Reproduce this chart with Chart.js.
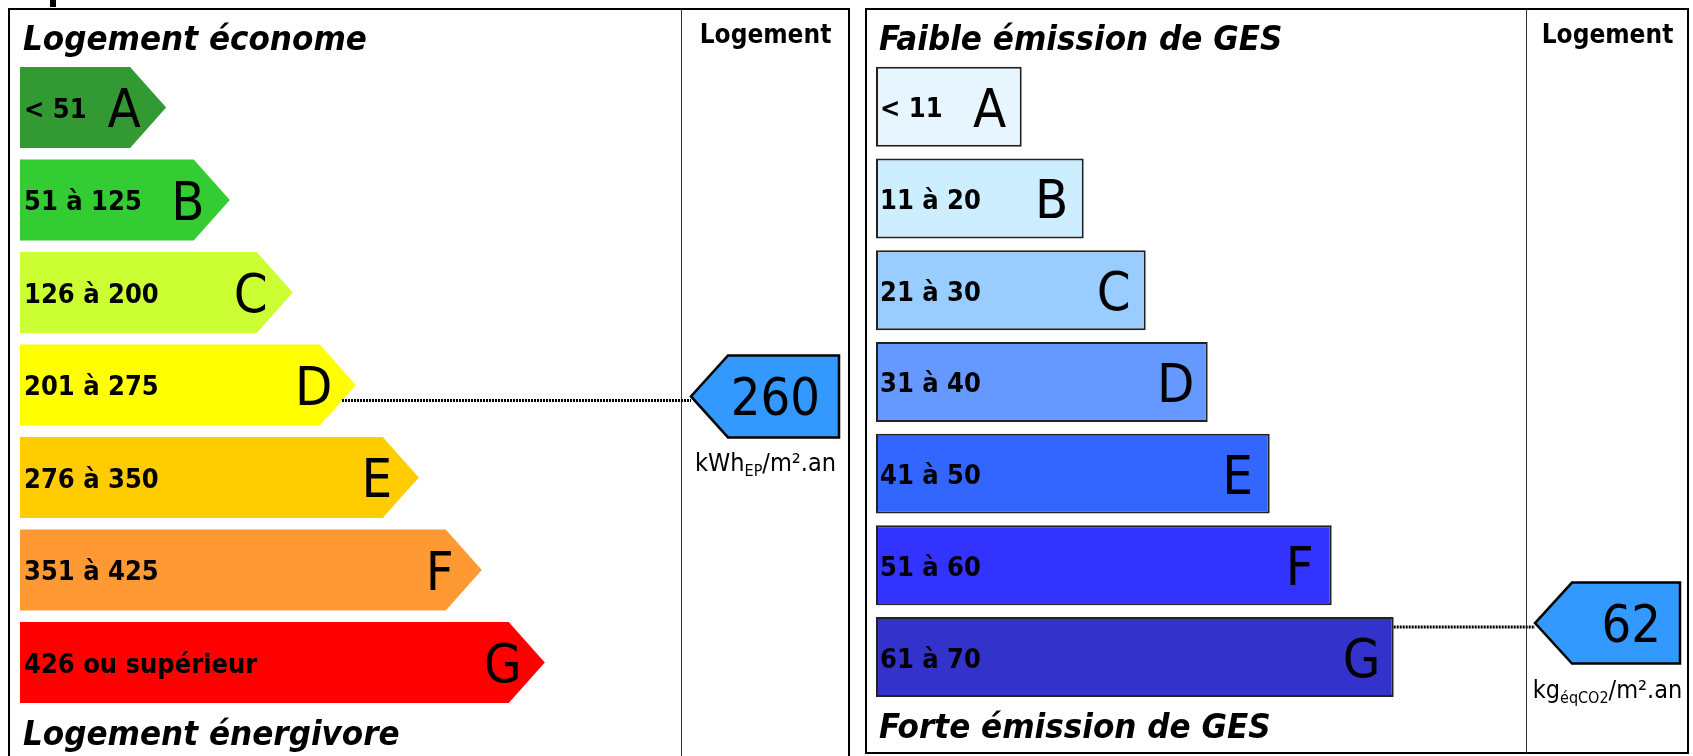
<!DOCTYPE html>
<html lang="fr">
<head>
  <meta charset="UTF-8">
  <title>Diagnostic de performance énergétique</title>
  <script src="https://cdn.jsdelivr.net/npm/chart.js"></script>
  <style>
    html, body {
      margin: 0;
      padding: 0;
      background: #fff;
    }
    body {
      position: relative;
      width: 1693px;
      height: 756px;
      overflow: hidden;
      font-family: 'DejaVu Sans Condensed', 'DejaVu Sans', sans-serif;
      color: #000;
    }
    .panel {
      position: absolute;
      box-sizing: border-box;
      border: 2px solid #000;
    }
    #panel-energy { left: 8px; top: 8px; width: 842px; height: 780px; }
    #panel-ges { left: 865px; top: 8px; width: 824px; height: 746px; }
    .divider {
      position: absolute;
      width: 0;
      border-left: 1.5px solid #333;
    }
    canvas {
      position: absolute;
      top: 0;
    }
    .title {
      position: absolute;
      font-weight: bold;
      font-style: italic;
      font-size: 34.6px;
      line-height: 34px;
      white-space: nowrap;
    }
    .colhead {
      position: absolute;
      font-weight: bold;
      font-size: 26px;
      line-height: 26px;
      text-align: center;
      white-space: nowrap;
    }
    .unit {
      position: absolute;
      font-size: 25px;
      line-height: 22px;
      text-align: center;
      white-space: nowrap;
    }
    .unit sub {
      font-size: 16px;
      line-height: 0;
      vertical-align: -5px;
    }
    #cut-mark {
      position: absolute;
      left: 50px;
      top: 0;
      width: 6px;
      height: 7px;
      background: #000;
    }
  </style>
</head>
<body>
  <div id="cut-mark"></div>

  <div class="panel" id="panel-energy"></div>
  <div class="divider" style="left:681px; top:9px; height:760px;"></div>
  <div class="panel" id="panel-ges"></div>
  <div class="divider" style="left:1526px; top:9px; height:744px;"></div>

  <canvas id="energy" width="858" height="756" style="left:0;"></canvas>
  <canvas id="ges" width="835" height="756" style="left:858px;"></canvas>

  <div class="title" style="left:23px; top:21px;">Logement économe</div>
  <div class="title" style="left:23px; top:716px;">Logement énergivore</div>
  <div class="title" style="left:879px; top:21px;">Faible émission de GES</div>
  <div class="title" style="left:879px; top:709px;">Forte émission de GES</div>

  <div class="colhead" style="left:682px; width:167px; top:21px;">Logement</div>
  <div class="colhead" style="left:1527px; width:161px; top:21px;">Logement</div>

  <div class="unit" style="left:682px; width:167px; top:452px;">kWh<sub>EP</sub>/m².an</div>
  <div class="unit" style="left:1527px; width:161px; top:679px;">kg<sub>éqCO2</sub>/m².an</div>

  <script>
    // classes, shared by both labels
    const classes = ['A', 'B', 'C', 'D', 'E', 'F', 'G'];

    // energy consumption (kWhEP/m².an)
    const energyRanges = ['< 51', '51 à 125', '126 à 200', '201 à 275', '276 à 350', '351 à 425', '426 ou supérieur'];
    const energyBarLength = [2.32, 3.33, 4.33, 5.33, 6.33, 7.33, 8.33];
    const energyColors = ['#339933', '#33cc33', '#ccff33', '#ffff00', '#ffcc00', '#ff9933', '#ff0000'];
    const energyLow = [0, 51, 126, 201, 276, 351, 426];
    const energyHigh = [50, 125, 200, 275, 350, 425, 500];
    const energyValue = 260;

    // greenhouse gas emissions (kgéqCO2/m².an)
    const gesRanges = ['< 11', '11 à 20', '21 à 30', '31 à 40', '41 à 50', '51 à 60', '61 à 70'];
    const gesBarLength = [2.35, 3.35, 4.35, 5.35, 6.35, 7.35, 8.35];
    const gesColors = ['#e6f5ff', '#cceeff', '#99ccff', '#6699ff', '#3366ff', '#3333ff', '#3333cc'];
    const gesLow = [0, 11, 21, 31, 41, 51, 61];
    const gesHigh = [10, 20, 30, 40, 50, 60, 70];
    const gesValue = 62;

    const FONT = "'DejaVu Sans Condensed', 'DejaVu Sans', sans-serif";

    // draws the bar shapes (arrow ends for energy), the texts and the value pointer
    function dpePlugin(cfg) {
      return {
        id: 'dpe',
        beforeDatasetsDraw(chart) {
          if (!cfg.arrowBars) return;
          const ctx = chart.ctx;
          chart.getDatasetMeta(0).data.forEach((el) => {
            const h = el.height;
            const top = el.y - h / 2;
            const head = h * 0.445;
            ctx.save();
            ctx.fillStyle = el.options.backgroundColor;
            ctx.beginPath();
            ctx.moveTo(el.base, top);
            ctx.lineTo(el.x - head, top);
            ctx.lineTo(el.x, el.y);
            ctx.lineTo(el.x - head, top + h);
            ctx.lineTo(el.base, top + h);
            ctx.closePath();
            ctx.fill();
            ctx.restore();
          });
          return false;
        },
        afterDraw(chart) {
          const ctx = chart.ctx;
          const meta = chart.getDatasetMeta(0);
          ctx.save();
          ctx.fillStyle = '#000';
          ctx.textBaseline = 'alphabetic';
          meta.data.forEach((el, i) => {
            ctx.font = 'bold 27px ' + FONT;
            ctx.textAlign = 'left';
            ctx.fillText(cfg.ranges[i], el.base + 4, el.y + 10.5);
            ctx.font = '54px ' + FONT;
            ctx.textAlign = 'center';
            ctx.fillText(chart.data.labels[i], el.x - cfg.letterGap, el.y + 20);
          });

          // which class the value falls in, and where inside it
          const v = cfg.value;
          let idx = 0;
          cfg.lows.forEach((lo, i) => { if (v >= lo) idx = i; });
          const frac = (v - cfg.lows[idx]) / (cfg.highs[idx] - cfg.lows[idx]);
          const ty = chart.scales.y.getPixelForValue(idx - 0.45 + frac * 0.72);

          const bar = meta.data[idx];
          const half = bar.height / 2;
          const ly = ty + 4;
          let edgeX = bar.x;
          if (cfg.arrowBars) {
            edgeX = bar.x - bar.height * 0.445 * Math.abs(ly - bar.y) / half;
          }

          // dotted leader line
          ctx.beginPath();
          ctx.setLineDash([2, 1]);
          ctx.lineWidth = 3;
          ctx.strokeStyle = '#000';
          ctx.moveTo(edgeX, ly);
          ctx.lineTo(cfg.tipX, ly);
          ctx.stroke();
          ctx.setLineDash([]);

          // pointer box
          const ph = bar.height + 1;
          ctx.beginPath();
          ctx.moveTo(cfg.tipX, ty);
          ctx.lineTo(cfg.tipX + 37, ty - ph / 2);
          ctx.lineTo(cfg.rightX, ty - ph / 2);
          ctx.lineTo(cfg.rightX, ty + ph / 2);
          ctx.lineTo(cfg.tipX + 37, ty + ph / 2);
          ctx.closePath();
          ctx.fillStyle = '#3399ff';
          ctx.fill();
          ctx.lineWidth = 2.5;
          ctx.lineJoin = 'miter';
          ctx.stroke();

          ctx.fillStyle = '#000';
          ctx.font = '52px ' + FONT;
          ctx.textAlign = 'right';
          ctx.fillText(String(v), cfg.rightX - 19, ty + 19);
          ctx.restore();
        }
      };
    }

    function makeChart(id, lengths, colors, padding, barPct, border, plugin) {
      return new Chart(document.getElementById(id), {
        type: 'bar',
        data: {
          labels: classes,
          datasets: [{
            data: lengths,
            backgroundColor: colors,
            borderColor: '#222',
            borderWidth: border,
            borderSkipped: false,
            barPercentage: barPct,
            categoryPercentage: 1
          }]
        },
        options: {
          indexAxis: 'y',
          responsive: false,
          animation: false,
          layout: { padding: padding },
          scales: {
            x: { display: false, min: 0, max: 10 },
            y: { display: false }
          },
          plugins: {
            legend: { display: false },
            tooltip: { enabled: false }
          }
        },
        plugins: [plugin]
      });
    }

    makeChart('energy', energyBarLength, energyColors,
      { left: 20, right: 208, top: 61.2, bottom: 47.3 }, 0.876, 0,
      dpePlugin({
        arrowBars: true, ranges: energyRanges, letterGap: 42,
        value: energyValue, lows: energyLow, highs: energyHigh,
        tipX: 691, rightX: 839
      }));

    makeChart('ges', gesBarLength, gesColors,
      { left: 18, right: 197, top: 60.9, bottom: 53.1 }, 0.872, 2,
      dpePlugin({
        arrowBars: false, ranges: gesRanges, letterGap: 32,
        value: gesValue, lows: gesLow, highs: gesHigh,
        tipX: 677, rightX: 822
      }));
  </script>
</body>
</html>
